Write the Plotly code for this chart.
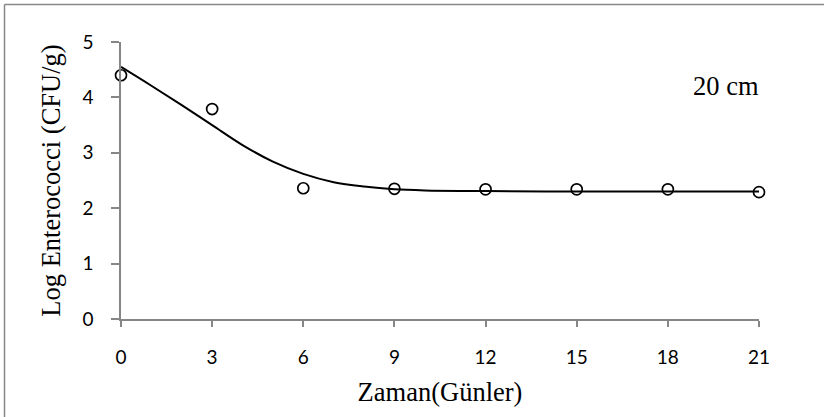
import plotly.graph_objects as go

# Observed data
days = [0, 3, 6, 9, 12, 15, 18, 21]
log_entero = [4.40, 3.79, 2.36, 2.35, 2.34, 2.34, 2.34, 2.29]

# Fitted curve
fit_days = [0, 1, 2, 3, 4, 5, 6, 7, 8, 9, 10, 12, 15, 18, 21]
fit_vals = [4.55, 4.21, 3.86, 3.50, 3.14, 2.84, 2.62, 2.47, 2.39, 2.34, 2.32, 2.31, 2.30, 2.30, 2.30]

x_ticks = [0, 3, 6, 9, 12, 15, 18, 21]
y_ticks = [0, 1, 2, 3, 4, 5]

x_title = "Zaman(Günler)"
y_title = "Log Enterococci (CFU/g)"
label_text = "20 cm"

W, H = 824, 417
L, R, T, B = 121, 65, 42, 98
pw, ph = W - L - R, H - T - B

fig = go.Figure()
fig.add_trace(go.Scatter(
    x=fit_days, y=fit_vals, mode="lines",
    line=dict(color="black", width=2, shape="spline", smoothing=1.0),
    hoverinfo="skip", showlegend=False, cliponaxis=False))
fig.add_trace(go.Scatter(
    x=days, y=log_entero, mode="markers",
    marker=dict(symbol="circle-open", size=11, color="black", line=dict(width=1.7, color="black")),
    showlegend=False, cliponaxis=False))

axis_gray = "#868686"
serif = "Liberation Serif, Times New Roman, serif"
sans = "Lato, Carlito, sans-serif"
fig.update_xaxes(
    range=[0, 21], tickvals=x_ticks, ticktext=[str(v) for v in x_ticks],
    showgrid=False, zeroline=False, showline=True, linecolor=axis_gray, linewidth=1.5,
    ticks="outside", ticklen=6, tickwidth=1.5, tickcolor=axis_gray,
    ticklabelstandoff=14,
    tickfont=dict(family=sans, size=19, color="black"),
    title=dict(text=x_title, font=dict(family=serif, size=26.5, color="black"), standoff=16),
)
fig.update_yaxes(
    range=[0, 5], tickvals=y_ticks, ticktext=[str(v) for v in y_ticks],
    showgrid=False, zeroline=False, showline=True, linecolor=axis_gray, linewidth=1.5,
    ticks="outside", ticklen=8, tickwidth=1.5, tickcolor=axis_gray,
    ticklabelstandoff=14,
    tickfont=dict(family=sans, size=19, color="black"),
    title=dict(text=y_title, font=dict(family=serif, size=26.5, color="black"), standoff=14),
)

def px_to_paper_x(px):
    return (px - L) / pw

def px_to_paper_y(py):
    return (H - B - py) / ph

# outer chart border: only left and top edges are inside the picture
border = dict(color="#878787", width=1.5)
fig.add_shape(type="line", xref="paper", yref="paper",
              x0=px_to_paper_x(4.5), x1=px_to_paper_x(4.5),
              y0=px_to_paper_y(H + 5), y1=px_to_paper_y(4.5), line=border, layer="below")
fig.add_shape(type="line", xref="paper", yref="paper",
              x0=px_to_paper_x(4.5), x1=px_to_paper_x(W + 5),
              y0=px_to_paper_y(4.5), y1=px_to_paper_y(4.5), line=border, layer="below")

fig.add_annotation(x=19.9, y=4.2, xref="x", yref="y", text=label_text, showarrow=False,
                   font=dict(family=serif, size=26.5, color="black"))

fig.update_layout(
    width=W, height=H, margin=dict(l=L, r=R, t=T, b=B),
    paper_bgcolor="white", plot_bgcolor="white",
)

fig.write_html("out.html", config={"displayModeBar": False},
               post_script="document.body.style.margin='0';document.body.style.overflow='hidden';")
